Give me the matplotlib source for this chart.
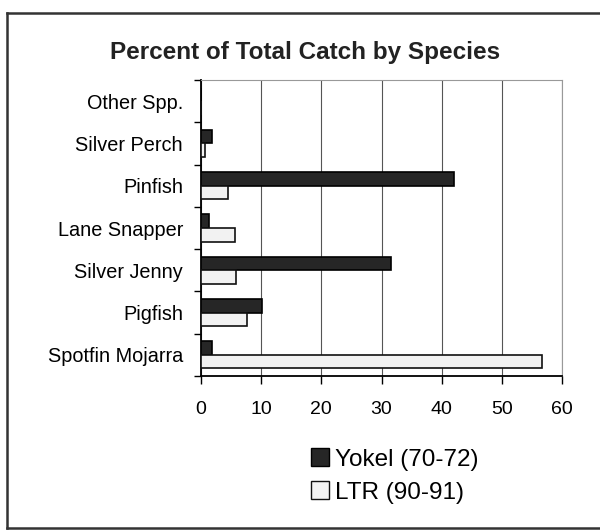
import numpy as np
import matplotlib.pyplot as plt
from matplotlib.lines import Line2D
from matplotlib.patches import Patch

plt.rcParams['font.family'] = ['Liberation Sans', 'DejaVu Sans']

# data (bottom to top)
species = ['Spotfin Mojarra', 'Pigfish', 'Silver Jenny', 'Lane Snapper',
           'Pinfish', 'Silver Perch', 'Other Spp.']
yokel = [1.9, 10.2, 31.6, 1.4, 42.0, 1.8, 0.0]
ltr = [56.7, 7.6, 5.8, 5.7, 4.5, 0.7, 0.0]

fig = plt.figure(figsize=(6, 5.3), dpi=100)
ax = fig.add_axes([201/600, 1-376/530, 361/600, 296/530])

y = np.arange(len(species))
h = 0.32
ax.barh(y + h/2, yokel, height=h, color='#262626', edgecolor='black', linewidth=1.2, zorder=3)
ax.barh(y - h/2, ltr, height=h, color='#f2f2f2', edgecolor='#111111', linewidth=1.2, zorder=3)

ax.set_xlim(0, 60)
ax.set_ylim(-0.5, len(species) - 0.5)
ax.set_xticks(range(0, 61, 10))
ax.tick_params(axis='x', labelsize=14, length=6, direction='out', pad=12, width=1)
ax.set_yticks(y)
ax.set_yticklabels(species, fontsize=14.3)
ax.tick_params(axis='y', length=0, pad=13)
ax.set_yticks(np.arange(-0.5, len(species), 1), minor=True)
ax.tick_params(axis='y', which='minor', length=5, direction='out', width=1)

ax.grid(axis='x', color='#555555', linewidth=0.8, zorder=0)
ax.spines['left'].set_linewidth(1.3)
ax.spines['bottom'].set_linewidth(1.3)
ax.spines['top'].set_color('#999999')
ax.spines['right'].set_color('#999999')
ax.spines['right'].set_linestyle((0, (1, 1)))

fig.text(0.508, 1-52/530, 'Percent of Total Catch by Species', ha='center', va='center',
         fontsize=17.5, fontweight='bold', color='#222222')

handles = [Patch(facecolor='#262626', edgecolor='black'),
           Patch(facecolor='#f2f2f2', edgecolor='#111111')]
fig.legend(handles, ['Yokel (70-72)', 'LTR (90-91)'], loc='center left',
           bbox_to_anchor=(289/600, 1-476/530), frameon=False, fontsize=17.5,
           handlelength=0.75, handleheight=0.75, handletextpad=0.25, labelspacing=0.45)

# outer frame
fig.add_artist(Line2D([7/600, 7/600], [1-13/530, 1-528/530], color='#333333', lw=1.8))
fig.add_artist(Line2D([7/600, 1], [1-13/530, 1-13/530], color='#333333', lw=1.8))
fig.add_artist(Line2D([7/600, 1], [1-528/530, 1-528/530], color='#333333', lw=1.8))

fig.savefig('out.png', dpi=100)
